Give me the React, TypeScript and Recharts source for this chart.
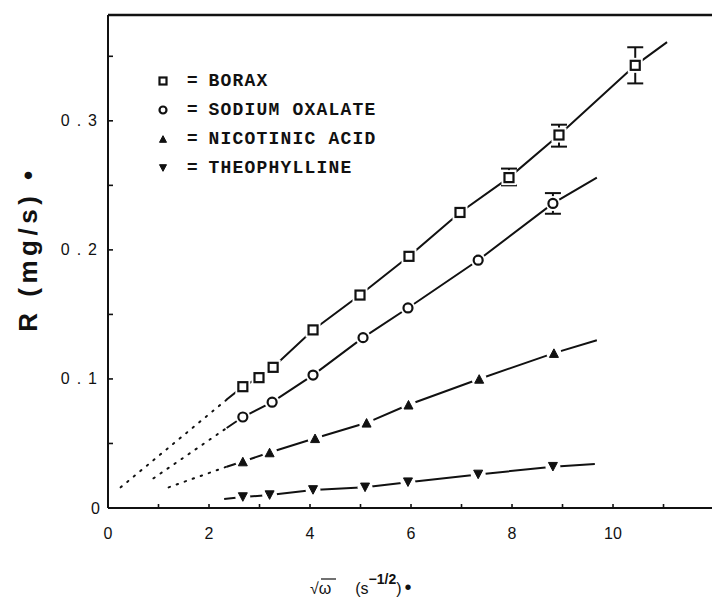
import React from 'react';
import { ComposedChart, Line, Scatter, XAxis, YAxis, ReferenceLine, ErrorBar, Legend, Label } from 'recharts';

// ---- data ----
const seriesNames = ['BORAX', 'SODIUM OXALATE', 'NICOTINIC ACID', 'THEOPHYLLINE'];
const seriesMarkers = ['square', 'circle', 'triangleUp', 'triangleDown'];

const xTicks = [0, 1, 2, 3, 4, 5, 6, 7, 8, 9, 10, 11];
const xLabeledTicks = [0, 2, 4, 6, 8, 10];
const xTickLabels = ['0', '2', '4', '6', '8', '10'];
const yTicks = [0, 0.05, 0.1, 0.15, 0.2, 0.25, 0.3, 0.35];
const yLabeledTicks = [0, 0.1, 0.2, 0.3];
const yTickLabels = ['0', '0.1', '0.2', '0.3'];
const xDomain = [0, 11.96];
const yDomain = [0, 0.382];

const boraxPoints = [
  { x: 2.67, y: 0.094 }, { x: 2.99, y: 0.101 }, { x: 3.27, y: 0.109 }, { x: 4.06, y: 0.138 },
  { x: 4.99, y: 0.165 }, { x: 5.96, y: 0.195 }, { x: 6.97, y: 0.229 },
  { x: 7.94, y: 0.256, err: [0.006, 0.007] }, { x: 8.93, y: 0.289, err: [0.009, 0.008] },
  { x: 10.44, y: 0.343, err: [0.014, 0.014] },
];
const oxalatePoints = [
  { x: 2.67, y: 0.0705 }, { x: 3.25, y: 0.082 }, { x: 4.06, y: 0.103 }, { x: 5.05, y: 0.132 },
  { x: 5.94, y: 0.155 }, { x: 7.33, y: 0.192 }, { x: 8.81, y: 0.236, err: [0.008, 0.008] },
];
const nicotinicPoints = [
  { x: 2.67, y: 0.036 }, { x: 3.2, y: 0.043 }, { x: 4.1, y: 0.054 }, { x: 5.12, y: 0.066 },
  { x: 5.95, y: 0.08 }, { x: 7.35, y: 0.1 }, { x: 8.83, y: 0.12 },
];
const theophyllinePoints = [
  { x: 2.67, y: 0.0085 }, { x: 3.2, y: 0.01 }, { x: 4.06, y: 0.014 }, { x: 5.09, y: 0.016 },
  { x: 5.94, y: 0.02 }, { x: 7.33, y: 0.026 }, { x: 8.81, y: 0.032 },
];

// fitted-line extents (dotted extrapolation start, solid start, solid end)
const boraxDotted = [{ x: 0.25, y: 0.016 }, { x: 2.35, y: 0.084 }];
const boraxFitEnd = { x: 11.07, y: 0.361 };
const oxalateDotted = [{ x: 0.9, y: 0.023 }, { x: 2.35, y: 0.062 }];
const oxalateFitEnd = { x: 9.68, y: 0.256 };
const nicotinicDotted = [{ x: 1.2, y: 0.016 }, { x: 2.35, y: 0.032 }];
const nicotinicFitEnd = { x: 9.68, y: 0.13 };
const theophyllineFitStart = { x: 2.3, y: 0.007 };
const theophyllineFitEnd = { x: 9.64, y: 0.034 };

const boraxSolid = [boraxDotted[1], ...boraxPoints, boraxFitEnd];
const oxalateSolid = [oxalateDotted[1], ...oxalatePoints, oxalateFitEnd];
const nicotinicSolid = [nicotinicDotted[1], ...nicotinicPoints, nicotinicFitEnd];
const theophyllineSolid = [theophyllineFitStart, ...theophyllinePoints, theophyllineFitEnd];

// ---- drawing helpers ----
const INK = '#111';

const Marker = ({ kind, cx, cy, size, halo }: any) => {
  const s = size;
  if (kind === 'square') {
    return (
      <g>
        {halo && <rect x={cx - s / 2 - 3} y={cy - s / 2 - 3} width={s + 6} height={s + 6} fill="#fff" />}
        <rect x={cx - s / 2} y={cy - s / 2} width={s} height={s} fill="#fff" stroke={INK} strokeWidth={2.2} />
      </g>
    );
  }
  if (kind === 'circle') {
    return (
      <g>
        {halo && <circle cx={cx} cy={cy} r={s / 2 + 3} fill="#fff" />}
        <circle cx={cx} cy={cy} r={s / 2} fill="#fff" stroke={INK} strokeWidth={2.2} />
      </g>
    );
  }
  const h = s * 0.95;
  const up = kind === 'triangleUp';
  const pts = up
    ? `${cx},${cy - h / 2} ${cx + s / 2},${cy + h / 2} ${cx - s / 2},${cy + h / 2}`
    : `${cx},${cy + h / 2} ${cx + s / 2},${cy - h / 2} ${cx - s / 2},${cy - h / 2}`;
  return (
    <g>
      {halo && <circle cx={cx} cy={cy} r={s / 2 + 3} fill="#fff" />}
      <polygon points={pts} fill={INK} stroke={INK} strokeWidth={1} />
    </g>
  );
};

const shapeFor = (kind: string) => (props: any) => (
  <Marker kind={kind} cx={props.cx} cy={props.cy} size={9} halo />
);

const Y_TICK_MARGIN = 11;
const X_TICK_MARGIN = 18;

const labelFor = (v: number, values: number[], labels: string[]) => {
  const i = values.findIndex((t) => Math.abs(t - v) < 1e-9);
  return i >= 0 ? labels[i] : null;
};

const YTick = (props: any) => {
  const { x, y, payload } = props;
  const axisX = x + Y_TICK_MARGIN;
  const label = labelFor(payload.value, yLabeledTicks, yTickLabels);
  const isZero = payload.value === 0;
  return (
    <g>
      <line x1={axisX} x2={axisX + 5} y1={y} y2={y} stroke={INK} strokeWidth={1.6} />
      {label && (
        <text
          x={isZero ? x + 3 : x + 7}
          y={y}
          textAnchor="end"
          dominantBaseline="central"
          fontFamily="Liberation Sans, Arial, sans-serif"
          fontSize={16}
          letterSpacing={isZero ? 0 : 7}
          fill={INK}
        >
          {label}
        </text>
      )}
    </g>
  );
};

const XTick = (props: any) => {
  const { x, y, payload } = props;
  const axisY = y - X_TICK_MARGIN;
  const label = labelFor(payload.value, xLabeledTicks, xTickLabels);
  return (
    <g>
      <line x1={x} x2={x} y1={axisY} y2={axisY - 4} stroke={INK} strokeWidth={1.6} />
      {label && (
        <text
          x={x}
          y={y + 7}
          textAnchor="middle"
          dominantBaseline="central"
          fontFamily="Liberation Sans, Arial, sans-serif"
          fontSize={16}
          fill={INK}
        >
          {label}
        </text>
      )}
    </g>
  );
};

const renderLegend = () => (
  <div style={{ fontFamily: 'Liberation Mono, DejaVu Sans Mono, monospace', fontSize: 18, fontWeight: 'bold', color: INK }}>
    {seriesNames.map((name, i) => (
      <div key={name} style={{ height: 29, display: 'flex', alignItems: 'center', whiteSpace: 'nowrap' }}>
        <svg width={14} height={14} style={{ display: 'block' }}>
          <Marker kind={seriesMarkers[i]} cx={7} cy={7} size={7} />
        </svg>
        <span style={{ marginLeft: 17, fontFamily: 'Liberation Sans, Arial, sans-serif', fontWeight: 'bold', fontSize: 18 }}>=</span>
        <span style={{ marginLeft: 11, letterSpacing: 1.2 }}>{name}</span>
      </div>
    ))}
  </div>
);

const YAxisTitle = () => (
  <text
    transform="translate(37,249) rotate(-90)"
    textAnchor="middle"
    fontFamily="Liberation Sans, Arial, sans-serif"
    fontWeight="bold"
    fontSize={26}
    letterSpacing={4.5}
    fill={INK}
  >
    R (mg/s) •
  </text>
);

const XAxisTitle = () => (
  <g fill={INK} fontFamily="Liberation Sans, Arial, sans-serif">
    <line x1={321} x2={336} y1={579} y2={579} stroke={INK} strokeWidth={1.2} />
    <text x={310} y={594} fontSize={16}>
      <tspan>√ω</tspan>
      <tspan dx={24}>(s</tspan>
      <tspan dy={-10} fontSize={14} fontWeight="bold">−1/2</tspan>
      <tspan dy={10}>)</tspan>
      <tspan dx={3} fontSize={20}>•</tspan>
    </text>
  </g>
);

export default function App() {
  const dotted = { stroke: INK, strokeWidth: 2, strokeDasharray: '1.5 7', strokeLinecap: 'round' as const };
  const solid = { stroke: INK, strokeWidth: 2 };
  return (
    <div style={{ position: 'fixed', left: 0, top: 0, width: 712, height: 598, background: '#fff', overflow: 'hidden' }}>
      <ComposedChart width={712} height={598} margin={{ top: 15, right: 0, bottom: 0, left: 0 }}>
        <XAxis
          dataKey="x"
          type="number"
          domain={xDomain}
          allowDataOverflow
          ticks={xTicks}
          interval={0}
          tickLine={false}
          tickSize={0}
          tickMargin={X_TICK_MARGIN}
          tick={<XTick />}
          axisLine={{ stroke: INK, strokeWidth: 2 }}
          height={90}
        >
          <Label content={<XAxisTitle />} />
        </XAxis>
        <YAxis
          type="number"
          domain={yDomain}
          allowDataOverflow
          ticks={yTicks}
          interval={0}
          tickLine={false}
          tickSize={0}
          tickMargin={Y_TICK_MARGIN}
          tick={<YTick />}
          axisLine={{ stroke: INK, strokeWidth: 2 }}
          width={108}
        >
          <Label content={<YAxisTitle />} />
        </YAxis>
        <ReferenceLine y={yDomain[1]} stroke={INK} strokeWidth={2.5} ifOverflow="visible" />

        <Line data={boraxDotted} dataKey="y" {...dotted} dot={false} activeDot={false} legendType="none" isAnimationActive={false} />
        <Line data={oxalateDotted} dataKey="y" {...dotted} dot={false} activeDot={false} legendType="none" isAnimationActive={false} />
        <Line data={nicotinicDotted} dataKey="y" {...dotted} dot={false} activeDot={false} legendType="none" isAnimationActive={false} />

        <Line data={boraxSolid} dataKey="y" {...solid} dot={false} activeDot={false} legendType="none" isAnimationActive={false} />
        <Line data={oxalateSolid} dataKey="y" {...solid} dot={false} activeDot={false} legendType="none" isAnimationActive={false} />
        <Line data={nicotinicSolid} dataKey="y" {...solid} dot={false} activeDot={false} legendType="none" isAnimationActive={false} />
        <Line data={theophyllineSolid} dataKey="y" {...solid} dot={false} activeDot={false} legendType="none" isAnimationActive={false} />

        <Scatter name={seriesNames[0]} data={boraxPoints} dataKey="y" shape={shapeFor(seriesMarkers[0])} isAnimationActive={false}>
          <ErrorBar dataKey="err" direction="y" width={8} strokeWidth={2} stroke={INK} />
        </Scatter>
        <Scatter name={seriesNames[1]} data={oxalatePoints} dataKey="y" shape={shapeFor(seriesMarkers[1])} isAnimationActive={false}>
          <ErrorBar dataKey="err" direction="y" width={8} strokeWidth={2} stroke={INK} />
        </Scatter>
        <Scatter name={seriesNames[2]} data={nicotinicPoints} dataKey="y" shape={shapeFor(seriesMarkers[2])} isAnimationActive={false} />
        <Scatter name={seriesNames[3]} data={theophyllinePoints} dataKey="y" shape={shapeFor(seriesMarkers[3])} isAnimationActive={false} />

        <Legend
          layout="vertical"
          verticalAlign="middle"
          align="center"
          content={renderLegend}
          wrapperStyle={{ left: 156, top: 66, width: 300, right: 'auto', bottom: 'auto' }}
        />
      </ComposedChart>
    </div>
  );
}
